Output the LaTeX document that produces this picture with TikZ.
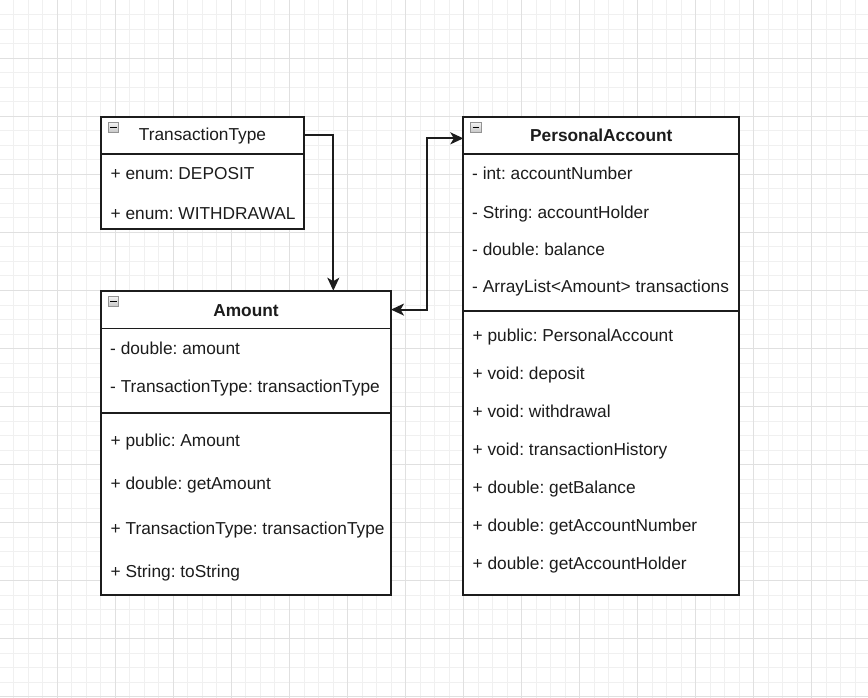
\documentclass[tikz,border=0pt]{standalone}
\usepackage{fontspec}
\setmainfont{Liberation Sans}
\usetikzlibrary{arrows.meta,calc}
\definecolor{minorgrid}{HTML}{F0F0F0}
\definecolor{majorgrid}{HTML}{E0E0E0}
\definecolor{ink}{HTML}{1C1C1C}
\begin{document}
\frenchspacing
\begin{tikzpicture}[x=1pt,y=-1pt, font=\fontsize{17.3}{20}\selectfont,
  box/.style={draw=ink, line width=1.8pt, fill=white, anchor=north west, inner sep=0pt, outer sep=0pt},
  hdr/.style={anchor=north west, inner sep=0pt, outer sep=0pt},
  txt/.style={anchor=base west, inner sep=0pt, text=ink},
  ttl/.style={anchor=base, inner sep=0pt, text=ink},
  sep/.style={draw=ink, line width=1.8pt},
  conn/.style={draw=ink, line width=1.8pt},
  tip/.tip={Stealth[length=13pt,width=12pt,inset=3.5pt]},
  arr/.style={conn, -tip},
  darr/.style={conn, tip-tip},
  icon/.style={draw=gray!85, top color=gray!10, bottom color=gray!45, line width=0.8pt, minimum width=10.5pt, minimum height=10pt, anchor=north west, inner sep=0pt, outer sep=0pt},
  minus/.style={draw=black, line width=1.4pt}
]
\useasboundingbox (0,0) rectangle (868,698);
\fill[white] (0,0) rectangle (868,698);
% grid
\foreach \i in {0,...,58} {\draw[minorgrid, line width=1pt] (13.8+14.51*\i,0) -- (13.8+14.51*\i,698);}
\foreach \i in {0,...,47} {\draw[minorgrid, line width=1pt] (0,14.8+14.51*\i) -- (868,14.8+14.51*\i);}
\foreach \i in {3,7,...,55} {\draw[majorgrid, line width=1pt] (13.8+14.51*\i,0) -- (13.8+14.51*\i,698);}
\foreach \i in {3,7,...,47} {\draw[majorgrid, line width=1pt] (0,14.8+14.51*\i) -- (868,14.8+14.51*\i);}

% TransactionType
\node[box, minimum width=203pt, minimum height=112.6pt] (tt) at (101,116.7) {};
\node[hdr, minimum width=203pt, minimum height=37.3pt] (tth) at (101,116.7) {};
\draw[sep] (tth.south west) -- (tth.south east);
\node[icon] (tti) at (108,122.5) {};
\draw[minus] ([xshift=2pt]tti.west) -- ([xshift=-2pt]tti.east);
\node[ttl] (ttt) at (202.5,140.7) {TransactionType};
\node[txt] (tt1) at (110.5,180) {+ enum: DEPOSIT};
\node[txt] (tt2) at (110.5,219) {+ enum: WITHDRAWAL};

% Amount
\node[box, minimum width=290pt, minimum height=304.3pt] (am) at (101,290.7) {};
\node[hdr, minimum width=290pt, minimum height=37.8pt] (amh) at (101,290.7) {};
\draw[sep] (amh.south west) -- (amh.south east);
\coordinate (ams) at (101,413.3);
\draw[sep] (ams) -- (ams -| am.east);
\node[icon] (ami) at (108,296.5) {};
\draw[minus] ([xshift=2pt]ami.west) -- ([xshift=-2pt]ami.east);
\node[ttl, font=\fontsize{17.3}{20}\selectfont\bfseries] (amt) at (246,316.7) {Amount};
\node[txt] (am1) at (110,354) {- double: amount};
\node[txt] (am2) at (110,392.3) {- TransactionType: transactionType};
\node[txt] (am3) at (110.5,446.7) {+ public: Amount};
\node[txt] (am4) at (110.5,489.3) {+ double: getAmount};
\node[txt] (am5) at (110.5,534) {+ TransactionType: transactionType};
\node[txt] (am6) at (110.5,577.3) {+ String: toString};

% PersonalAccount
\node[box, minimum width=276pt, minimum height=478.3pt] (pa) at (463.3,116.7) {};
\node[hdr, minimum width=276pt, minimum height=37.3pt] (pah) at (463.3,116.7) {};
\draw[sep] (pah.south west) -- (pah.south east);
\coordinate (pas) at (463.3,311);
\draw[sep] (pas) -- (pas -| pa.east);
\node[icon] (pai) at (470.5,122.5) {};
\draw[minus] ([xshift=2pt]pai.west) -- ([xshift=-2pt]pai.east);
\node[ttl, font=\fontsize{17.3}{20}\selectfont\bfseries] (pat) at (601.3,141.7) {PersonalAccount};
\node[txt] (pa1) at (472,180) {- int: accountNumber};
\node[txt] (pa2) at (472,218.3) {- String: accountHolder};
\node[txt] (pa3) at (472,255.5) {- double: balance};
\node[txt] (pa4) at (472,292.5) {- ArrayList<Amount> transactions};
\node[txt] (pa5) at (472.5,341.7) {+ public: PersonalAccount};
\node[txt] (pa6) at (472.5,379.6) {+ void: deposit};
\node[txt] (pa7) at (472.5,417.5) {+ void: withdrawal};
\node[txt] (pa8) at (472.5,455.4) {+ void: transactionHistory};
\node[txt] (pa9) at (472.5,493.3) {+ double: getBalance};
\node[txt] (pa10) at (472.5,531.2) {+ double: getAccountNumber};
\node[txt] (pa11) at (472.5,569.1) {+ double: getAccountHolder};

% connectors
\draw[arr] (tth.east) -| ([xshift=87.3pt]amh.north);
\draw[darr] (amh.east) -- ++(35.7,0) |- ([yshift=-3pt]pah.west);
\end{tikzpicture}
\end{document}
